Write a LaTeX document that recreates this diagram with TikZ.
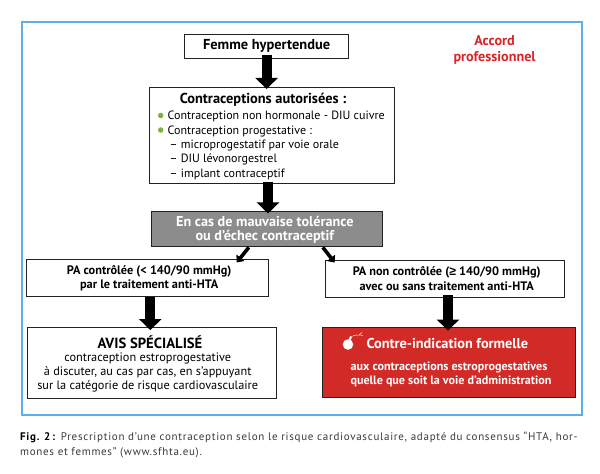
\documentclass[tikz,border=0pt]{standalone}
\usepackage{fontspec}
\setmainfont{PT Sans}
\newfontfamily\symf{Liberation Sans}
\usetikzlibrary{arrows.meta}
\definecolor{framec}{HTML}{5FAEEA}
\definecolor{redc}{HTML}{D22B27}
\definecolor{greyc}{HTML}{8C8C8C}
\definecolor{greenc}{HTML}{7DB242}
\definecolor{edgec}{HTML}{222222}
\definecolor{redt}{HTML}{D9252A}
\definecolor{capc}{HTML}{3A3A3A}
\tikzset{
  boxn/.style={draw=edgec,line width=0.9pt,fill=white,inner sep=0pt,align=center,text=black},
  blk/.style={line width=10pt,draw=black,-{Triangle[length=11pt,width=22pt]}},
  blks/.style={line width=3.6pt,draw=black,-{Triangle[length=6pt,width=10pt]}},
  ttl/.style={font=\fontsize{14.4}{15}\selectfont\bfseries},
  sub/.style={font=\fontsize{12.3}{14.4}\selectfont\bfseries},
  bodyt/.style={font=\fontsize{12}{14.4}\selectfont},
  avbody/.style={font=\fontsize{12.3}{14.4}\selectfont},
  bul/.style={circle,fill=greenc,inner sep=0pt,minimum size=5.5pt},
}
\begin{document}
\begin{tikzpicture}[x=1pt,y=-1pt]
\useasboundingbox (0,0) rectangle (600,474);
\fill[white] (0,0) rectangle (600,474);
\node[draw=framec,line width=1.8pt,minimum width=560pt,minimum height=393pt,anchor=north west,inner sep=0pt] (frame) at (20.7,20.7) {};
\node[boxn,ttl,minimum width=163.7pt,minimum height=24pt] (femme) at (266.6,46) {Femme hypertendue};
\node[boxn,minimum width=245.6pt,minimum height=96pt] (autor) at (272,135.7) {};
\node[ttl,anchor=base,inner sep=0pt] (autt) at (263,103) {Contraceptions autorisées :};
\node[bodyt,anchor=base west,inner sep=0pt] (l1) at (167.5,119) {Contraception non hormonale - DIU cuivre};
\node[bodyt,anchor=base west,inner sep=0pt] (l2) at (167.5,134) {Contraception progestative :};
\node[bodyt,anchor=base west,inner sep=0pt] (l3) at (169.5,148) {– microprogestatif par voie orale};
\node[bodyt,anchor=base west,inner sep=0pt] (l4) at (169.5,162.5) {– DIU lévonorgestrel};
\node[bodyt,anchor=base west,inner sep=0pt] (l5) at (169.5,177) {– implant contraceptif};
\node[bul] (b1) at (160.7,115.5) {};
\node[bul] (b2) at (160.7,130) {};
\node[boxn,draw=edgec,fill=greyc,text=white,font=\fontsize{14.2}{14}\selectfont\bfseries,minimum width=231.6pt,minimum height=35pt] (grey) at (266.8,229.4) {\hspace*{-4pt}En cas de mauvaise tolérance\\\hspace*{-4pt}ou d’échec contraceptif};
\node[boxn,sub,minimum width=241.8pt,minimum height=37pt] (pal) at (147.7,278.4) {\hspace*{3pt}PA contrôlée (< 140/90 mmHg)\\\hspace*{3pt}par le traitement anti-HTA};
\node[boxn,sub,minimum width=239.3pt,minimum height=37pt] (par) at (444.7,278.5) {\hspace*{4pt}PA non contrôlée ({\symf ≥} 140/90 mmHg)\\\hspace*{4pt}avec ou sans traitement anti-HTA};
\node[boxn,minimum width=249pt,minimum height=71pt] (avis) at (152,362.5) {};
\node[anchor=base,inner sep=0pt,font=\fontsize{14.7}{16}\selectfont\bfseries] (avist) at (150,348) {AVIS SPÉCIALISÉ};
\node[anchor=base,inner sep=0pt,avbody] (av1) at (147.7,361) {contraception estroprogestative};
\node[anchor=base,inner sep=0pt,avbody] (av2) at (147.7,375) {à discuter, au cas par cas, en s’appuyant};
\node[anchor=base,inner sep=0pt,avbody] (av3) at (147.7,389) {sur la catégorie de risque cardiovasculaire};
\node[boxn,fill=redc,minimum width=252.5pt,minimum height=70pt] (ci) at (448.7,362) {};
\node[anchor=base west,inner sep=0pt,text=white,font=\fontsize{14.3}{16}\selectfont\bfseries] (cit) at (366.5,348) {Contre-indication formelle};
\node[anchor=base,inner sep=0pt,text=white,font=\fontsize{12.1}{14}\selectfont\bfseries] (ci1) at (449,370) {aux contraceptions estroprogestatives};
\node[anchor=base,inner sep=0pt,text=white,font=\fontsize{12.1}{14}\selectfont\bfseries] (ci2) at (451,384) {quelle que soit la voie d’administration};
\node[circle,fill=white,inner sep=0pt,minimum size=10.5pt] (bomb) at (348,344.5) {};
\draw[white,line width=2pt] (bomb.center) -- ++(3,-8);
\draw[white,line width=0.4pt] (351.5,336.5) .. controls (354,334) and (356,336) .. (359,335);
\draw[white,line width=0.4pt] (359,335) -- (362,332.5) (359,335) -- (363,335.5);
\node[anchor=base,inner sep=0pt,text=redt,font=\fontsize{14.2}{19}\selectfont\bfseries] (accord) at (494.6,45) {Accord};
\node[anchor=base,inner sep=0pt,text=redt,font=\fontsize{14.2}{19}\selectfont\bfseries] (pro) at (494.6,61.5) {professionnel};
\draw[blk] ([yshift=3.5pt]femme.south) -- ([xshift=-5.4pt,yshift=-1.7pt]autor.north);
\draw[blk] ([xshift=-4pt,yshift=2.5pt]autor.south) -- ([xshift=1.2pt,yshift=-2pt]grey.north);
\draw[blks] ([xshift=-18pt]grey.south) -- ([xshift=89pt,yshift=-3pt]pal.north);
\draw[blks] ([xshift=56pt]grey.south) -- ([xshift=-110pt,yshift=-3pt]par.north);
\draw[blk] ([xshift=2.6pt]pal.south) -- ([xshift=-1.7pt,yshift=-3.5pt]avis.north);
\draw[blk] ([xshift=3.3pt,yshift=2pt]par.south) -- ([xshift=-0.7pt,yshift=-4pt]ci.north);
\node[anchor=base west,inner sep=0pt,text=capc,font=\fontsize{11}{12}\selectfont\addfontfeatures{LetterSpace=6.5}] (cap1) at (20,440.7) {\textcolor{black}{\textbf{Fig. 2\,:}} Prescription d’une contraception selon le risque cardiovasculaire, adapté du consensus “HTA, hor-};
\node[anchor=base west,inner sep=0pt,text=capc,font=\fontsize{11}{12}\selectfont\addfontfeatures{LetterSpace=6.5}] (cap2) at (20,455) {mones et femmes” (www.sfhta.eu).};
\end{tikzpicture}
\end{document}
